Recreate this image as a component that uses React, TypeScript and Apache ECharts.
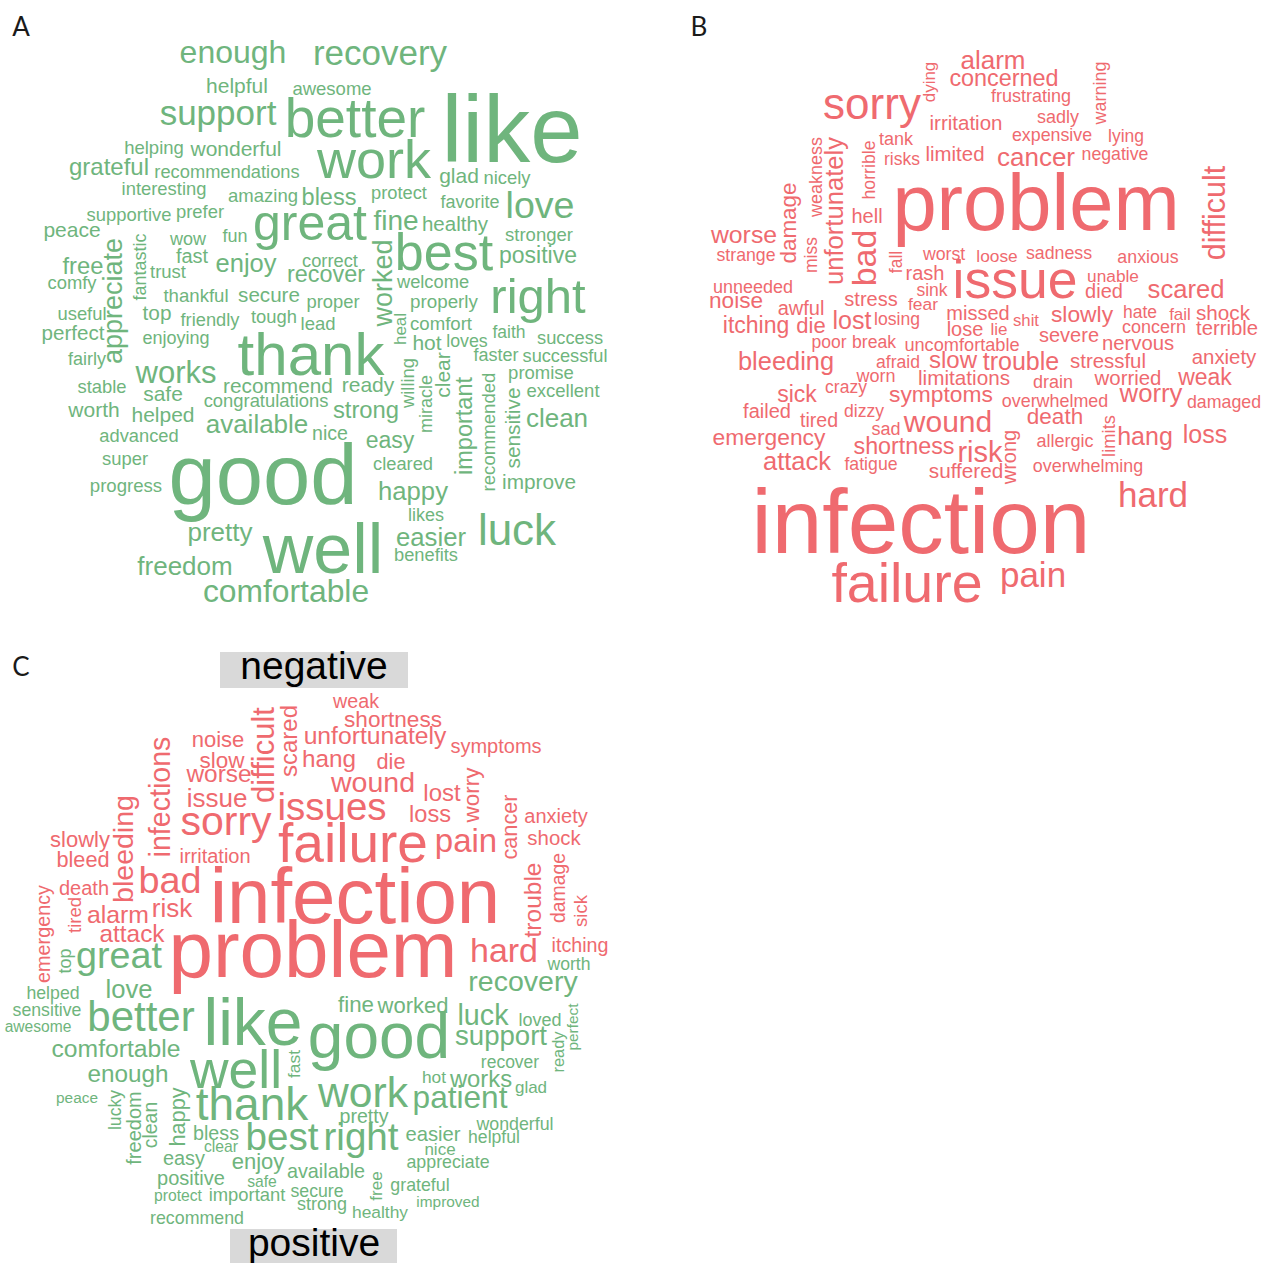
import React, { useEffect, useRef } from "react";
import * as echarts from "echarts";

// Each entry: [word, font size (~ frequency), anchor x, anchor y, rotation]
// Horizontal words: anchor = (centre x, baseline y); vertical words: anchor = (baseline x, centre y)
type W = [string, number, number, number, number];

const panelAPositive: W[] = [
  ["enough", 32, 233, 63, 0], ["recovery", 35, 380, 65, 0], ["helpful", 21, 237, 93, 0],
  ["awesome", 18.5, 332, 95, 0], ["support", 35, 218, 125, 0], ["better", 55, 355, 137, 0],
  ["like", 94, 512, 162, 0], ["work", 54, 374, 178, 0], ["helping", 18.5, 154, 154, 0],
  ["wonderful", 21, 236, 156, 0], ["grateful", 24, 109, 175, 0], ["recommendations", 18.3, 227, 178, 0],
  ["interesting", 18.4, 164, 195, 0], ["amazing", 18.5, 263, 202, 0], ["bless", 23.5, 329, 205, 0],
  ["protect", 18.3, 399, 199, 0], ["glad", 21, 459, 183, 0], ["nicely", 18.4, 507, 184, 0],
  ["supportive", 18.4, 129, 221, 0], ["prefer", 18.4, 200, 218, 0], ["great", 50, 310, 240, 0],
  ["fine", 28, 396, 230, 0], ["healthy", 20.5, 455, 231, 0], ["favorite", 18, 470, 208, 0],
  ["love", 37.6, 540, 218, 0], ["peace", 21, 72, 237, 0], ["wow", 18, 188, 245, 0],
  ["fun", 18, 235, 242, 0], ["stronger", 18.5, 539, 241, 0], ["best", 52, 444, 270, 0],
  ["positive", 23, 538, 263, 0], ["free", 23.8, 83, 274, 0], ["comfy", 18.4, 72, 289, 0],
  ["appreciate", 27, 122, 301, 90], ["fantastic", 18, 146, 267, 90], ["fast", 20, 192, 263, 0],
  ["trust", 18.5, 168, 278, 0], ["enjoy", 25.5, 246, 272, 0], ["correct", 18.3, 330, 267, 0],
  ["recover", 23.4, 326, 282, 0], ["worked", 27, 392, 283, 90], ["welcome", 18.3, 433, 288, 0],
  ["right", 49, 538, 313, 0], ["thankful", 18.6, 196, 302, 0], ["secure", 20.6, 269, 302, 0],
  ["proper", 18.4, 333, 308, 0], ["properly", 18.8, 444, 308, 0], ["useful", 18.4, 82, 320, 0],
  ["top", 20.8, 157, 320, 0], ["friendly", 18.3, 210, 326, 0], ["tough", 18.4, 274, 323, 0],
  ["lead", 18.5, 318, 330, 0], ["heal", 17, 406, 329, 90], ["comfort", 18.6, 441, 330, 0],
  ["hot", 21, 427, 350, 0], ["loves", 17.8, 467, 347, 0], ["faith", 17.5, 509, 338, 0],
  ["success", 18.3, 570, 344, 0], ["faster", 18, 496, 361, 0], ["successful", 18.2, 565, 362, 0],
  ["thank", 60, 311, 375, 0], ["enjoying", 18, 176, 344, 0], ["perfect", 20.6, 73, 340, 0],
  ["fairly", 18, 87, 365, 0], ["works", 31, 176, 383, 0], ["stable", 18.4, 102, 393, 0],
  ["safe", 21, 163, 401, 0], ["recommend", 20.8, 278, 393, 0], ["ready", 21, 368, 392, 0],
  ["congratulations", 18.4, 266, 407, 0], ["strong", 23.8, 366, 418, 0], ["willing", 18.4, 414, 383, 90],
  ["miracle", 18, 432, 404, 90], ["clear", 21, 450, 375, 90], ["important", 23.5, 472, 426, 90],
  ["recommended", 18.6, 495, 432, 90], ["sensitive", 20.8, 520, 428, 90], ["promise", 18.5, 541, 379, 0],
  ["excellent", 18.5, 563, 397, 0], ["clean", 26, 557, 427, 0], ["worth", 21, 94, 417, 0],
  ["helped", 21, 163, 422, 0], ["available", 26, 257, 433, 0], ["nice", 19.6, 330, 440, 0],
  ["advanced", 18.3, 139, 442, 0], ["easy", 23, 390, 448, 0], ["super", 18.4, 125, 465, 0],
  ["cleared", 18.3, 403, 470, 0], ["good", 85, 263, 504, 0], ["progress", 18.6, 126, 492, 0],
  ["happy", 25.7, 413, 500, 0], ["improve", 20.8, 539, 489, 0], ["likes", 18, 426, 521, 0],
  ["pretty", 26, 220, 541, 0], ["well", 70, 323, 573, 0], ["luck", 44, 517, 545, 0],
  ["easier", 25.7, 431, 546, 0], ["benefits", 18.3, 426, 561, 0], ["freedom", 26, 185, 575, 0],
  ["comfortable", 31.8, 286, 602, 0],
];

const panelBNegative: W[] = [
  ["alarm", 26, 993, 69, 0], ["concerned", 23.4, 1004, 86, 0], ["dying", 17, 935, 82, 90],
  ["frustrating", 18, 1031, 102, 0], ["warning", 18, 1106, 93, 90], ["sorry", 44, 872, 119, 0],
  ["irritation", 20.5, 966, 130, 0], ["sadly", 18, 1058, 123, 0], ["expensive", 17.8, 1052, 141, 0],
  ["lying", 17.5, 1126, 142, 0], ["tank", 18, 896, 145, 0], ["risks", 17.5, 902, 165, 0],
  ["limited", 20.4, 955, 161, 0], ["cancer", 26, 1036, 166, 0], ["negative", 17.7, 1115, 160, 0],
  ["weakness", 18, 822, 177, 90], ["unfortunately", 25.6, 843, 211, 90], ["horrible", 17.7, 875, 170, 90],
  ["damage", 22.4, 796, 223, 90], ["worse", 24.8, 744, 243, 0], ["strange", 17.7, 746, 261, 0],
  ["miss", 17.5, 817, 255, 90], ["hell", 20, 867, 223, 0], ["bad", 34, 876, 258, 90],
  ["fall", 17.5, 902, 262, 90], ["problem", 79.5, 1036, 230, 0], ["difficult", 30.5, 1225, 213, 90],
  ["worst", 17.7, 944, 260, 0], ["loose", 17.3, 997, 262, 0], ["sadness", 17.8, 1059, 259, 0],
  ["anxious", 17.8, 1148, 263, 0], ["rash", 20, 925, 280, 0], ["sink", 17.5, 932, 296, 0],
  ["issue", 53.5, 1015, 298, 0], ["unable", 17.3, 1113, 282, 0], ["died", 20, 1104, 298, 0],
  ["scared", 25.6, 1186, 298, 0], ["unneeded", 18, 753, 293, 0], ["noise", 22.6, 736, 308, 0],
  ["stress", 20, 871, 306, 0], ["fear", 17.4, 923, 310, 0], ["awful", 20, 801, 315, 0],
  ["itching", 23, 756, 333, 0], ["die", 22, 811, 333, 0], ["lost", 25, 852, 329, 0],
  ["losing", 17.6, 897, 325, 0], ["missed", 20, 978, 320, 0], ["shit", 16.7, 1026, 326, 0],
  ["slowly", 22.8, 1082, 322, 0], ["hate", 17.5, 1140, 318, 0], ["fail", 17, 1180, 320, 0],
  ["shock", 20.7, 1223, 320, 0], ["lose", 20, 965, 336, 0], ["lie", 17, 999, 335, 0],
  ["concern", 18, 1154, 333, 0], ["terrible", 20.3, 1227, 335, 0], ["poor", 17.5, 829, 348, 0],
  ["break", 17.6, 874, 348, 0], ["uncomfortable", 18.2, 962, 351, 0], ["severe", 20, 1069, 342, 0],
  ["nervous", 20.3, 1138, 350, 0], ["bleeding", 25.4, 786, 370, 0], ["afraid", 17.6, 898, 368, 0],
  ["slow", 24, 953, 368, 0], ["trouble", 25, 1021, 370, 0], ["stressful", 20.4, 1108, 368, 0],
  ["anxiety", 20.4, 1224, 364, 0], ["worn", 18, 876, 382, 0], ["limitations", 20.7, 964, 385, 0],
  ["drain", 18, 1053, 388, 0], ["worried", 20.4, 1128, 385, 0], ["weak", 23, 1205, 385, 0],
  ["sick", 23, 797, 402, 0], ["crazy", 17.5, 846, 393, 0], ["symptoms", 22.8, 941, 402, 0],
  ["overwhelmed", 17.9, 1055, 407, 0], ["worry", 25.7, 1151, 402, 0], ["damaged", 17.8, 1224, 408, 0],
  ["failed", 20, 767, 418, 0], ["tired", 19.6, 819, 427, 0], ["dizzy", 17.6, 864, 417, 0],
  ["sad", 18, 886, 435, 0], ["wound", 30, 948, 432, 0], ["death", 22.5, 1055, 424, 0],
  ["emergency", 22.8, 769, 445, 0], ["shortness", 23.3, 904, 454, 0], ["risk", 29, 980, 462, 0],
  ["wrong", 20, 1016, 457, 90], ["allergic", 18, 1065, 447, 0], ["limits", 18.4, 1115, 436, 90],
  ["hang", 25, 1145, 445, 0], ["loss", 25, 1205, 443, 0], ["attack", 25.5, 797, 470, 0],
  ["fatigue", 17.7, 871, 470, 0], ["suffered", 20.7, 966, 478, 0], ["overwhelming", 17.9, 1088, 472, 0],
  ["hard", 35, 1153, 507, 0], ["infection", 91, 921, 553, 0], ["failure", 55.5, 907, 602, 0],
  ["pain", 35, 1033, 587, 0],
];

const panelCNegative: W[] = [
  ["weak", 19.7, 356, 708, 0], ["shortness", 22.6, 393, 727, 0], ["unfortunately", 24.7, 375, 744, 0],
  ["symptoms", 20, 496, 753, 0], ["hang", 24.3, 329, 767, 0], ["die", 21.7, 391, 769, 0],
  ["wound", 28.5, 373, 792, 0], ["lost", 24, 442, 801, 0], ["worry", 22.5, 479, 795, 90],
  ["issues", 38.5, 332, 820, 0], ["loss", 23.6, 430, 822, 0], ["cancer", 21.7, 517, 827, 90],
  ["anxiety", 20, 556, 823, 0], ["shock", 20.4, 554, 845, 0], ["failure", 55, 353, 862, 0],
  ["pain", 33, 466, 852, 0], ["trouble", 24.5, 541, 900, 90], ["damage", 19.4, 565, 888, 90],
  ["sick", 18.6, 587, 911, 90], ["itching", 19.7, 580, 952, 0], ["hard", 34, 504, 962, 0],
  ["infection", 78, 355, 923, 0], ["problem", 80, 313, 977, 0], ["noise", 22, 218, 747, 0],
  ["slow", 22.5, 222, 768, 0], ["worse", 24.4, 219, 782, 0], ["difficult", 31, 274, 755, 90],
  ["scared", 24, 297, 741, 90], ["issue", 26, 217, 807, 0], ["infections", 28.6, 170, 797, 90],
  ["sorry", 41, 226, 835, 0], ["slowly", 22, 80, 847, 0], ["bleed", 21.7, 83, 867, 0],
  ["bleeding", 28.5, 133, 849, 90], ["irritation", 20, 215, 863, 0], ["bad", 37.8, 170, 893, 0],
  ["death", 20, 84, 895, 0], ["emergency", 19.8, 50, 934, 90], ["tired", 18.5, 81, 915, 90],
  ["alarm", 24.8, 118, 923, 0], ["risk", 26, 172, 917, 0], ["attack", 24.4, 132, 942, 0],
];

const panelCPositive: W[] = [
  ["top", 18, 71, 961, 90], ["great", 37.7, 119, 968, 0], ["love", 25.6, 129, 998, 0],
  ["helped", 17.7, 53, 999, 0], ["sensitive", 17.7, 47, 1016, 0], ["awesome", 15.6, 38, 1032, 0],
  ["better", 42, 141, 1031, 0], ["like", 66, 253, 1045, 0], ["comfortable", 24.7, 116, 1057, 0],
  ["enough", 24.3, 128, 1082, 0], ["well", 53.4, 236, 1088, 0], ["fast", 17.4, 300, 1064, 90],
  ["peace", 15.4, 77, 1103, 0], ["lucky", 17.6, 121, 1110, 90], ["freedom", 20, 141, 1128, 90],
  ["clean", 19.4, 157, 1125, 90], ["happy", 21.7, 185, 1117, 90], ["thank", 46, 252, 1120, 0],
  ["bless", 19.7, 216, 1140, 0], ["clear", 15.7, 221, 1152, 0], ["best", 38.6, 282, 1150, 0],
  ["easy", 19.9, 184, 1165, 0], ["enjoy", 22, 258, 1169, 0], ["positive", 20, 191, 1185, 0],
  ["safe", 15.7, 262, 1187, 0], ["protect", 15.7, 178, 1201, 0], ["important", 18.4, 247, 1201, 0],
  ["recommend", 17.8, 197, 1224, 0], ["available", 19.8, 326, 1178, 0], ["secure", 17.7, 317, 1197, 0],
  ["strong", 18, 322, 1210, 0], ["free", 17, 382, 1186, 90], ["healthy", 17.4, 380, 1218, 0],
  ["grateful", 17.8, 420, 1191, 0], ["improved", 15.4, 448, 1207, 0], ["appreciate", 17.8, 448, 1168, 0],
  ["nice", 17, 440, 1155, 0], ["easier", 20.2, 433, 1141, 0], ["helpful", 17.6, 494, 1143, 0],
  ["wonderful", 17.8, 515, 1130, 0], ["pretty", 19.6, 364, 1123, 0], ["right", 38.6, 361, 1150, 0],
  ["work", 42.6, 363, 1107, 0], ["patient", 31.6, 460, 1108, 0], ["hot", 17.3, 434, 1083, 0],
  ["works", 23.8, 481, 1087, 0], ["glad", 17, 531, 1093, 0], ["recover", 17.5, 510, 1068, 0],
  ["ready", 16.4, 564, 1052, 90], ["perfect", 15.4, 578, 1027, 90], ["good", 64, 379, 1058, 0],
  ["fine", 22.3, 356, 1012, 0], ["worked", 22, 413, 1013, 0], ["luck", 28.7, 483, 1025, 0],
  ["loved", 18, 540, 1026, 0], ["support", 27.6, 501, 1045, 0], ["recovery", 28.5, 523, 991, 0],
  ["worth", 17.6, 569, 970, 0],
];

const panelLabels = ["A", "B", "C"];
const groupTitles = ["negative", "positive"];

const GREEN = "#6FB57D";
const RED = "#EF6A6F";
const FONT = "Liberation Sans, Arial, Helvetica, sans-serif";
const K = 0.35;

function toItems(words: W[], color: string) {
  return words.map(([word, size, ax, ay, rot]) => {
    const x = rot === 0 ? ax : ax - K * size;
    const y = rot === 0 ? ay - K * size : ay;
    return {
      name: word,
      value: [x, y],
      itemStyle: { opacity: 1 },
      label: { fontSize: size, rotate: rot, color, opacity: 1 },
    };
  });
}

function wordSeries(words: W[], color: string) {
  return {
    type: "scatter",
    silent: true,
    symbol: "circle",
    symbolSize: 1,
    itemStyle: { color: "rgba(0,0,0,0)", opacity: 1 },
    label: {
      show: true,
      position: "inside",
      formatter: (p: any) => p.name,
      fontFamily: FONT,
      fontWeight: "normal",
      color,
      opacity: 1,
    },
    emphasis: { disabled: true },
    labelLayout: { hideOverlap: false },
    data: toItems(words, color),
  };
}

export default function App() {
  const ref = useRef<HTMLDivElement>(null);
  useEffect(() => {
    if (!ref.current) return;
    const chart = echarts.init(ref.current, null, { renderer: "svg" });
    const letterStyle = { font: "26px Lato, sans-serif", fill: "#1a1a1a", textAlign: "center", textVerticalAlign: "middle" };
    chart.setOption({
      animation: false,
      backgroundColor: "#ffffff",
      grid: { left: 0, right: 0, top: 0, bottom: 0 },
      xAxis: { type: "value", min: 0, max: 1262, show: false },
      yAxis: { type: "value", min: 0, max: 1263, inverse: true, show: false },
      graphic: [
        { type: "text", x: 21, y: 26, style: { ...letterStyle, text: panelLabels[0] } },
        { type: "text", x: 699, y: 26, style: { ...letterStyle, text: panelLabels[1] } },
        { type: "text", x: 21, y: 666, style: { ...letterStyle, text: panelLabels[2] } },
        { type: "rect", shape: { x: 220, y: 652, width: 188, height: 36 }, style: { fill: "#d9d9d9" } },
        { type: "rect", shape: { x: 230, y: 1229, width: 167, height: 40 }, style: { fill: "#d9d9d9" } },
        { type: "text", x: 314, y: 679 - K * 39, style: { text: groupTitles[0], font: `39px ${FONT}`, fill: "#000", textAlign: "center", textVerticalAlign: "middle" } },
        { type: "text", x: 314, y: 1256 - K * 39, style: { text: groupTitles[1], font: `39px ${FONT}`, fill: "#000", textAlign: "center", textVerticalAlign: "middle" } },
      ],
      series: [
        wordSeries(panelAPositive, GREEN),
        wordSeries(panelBNegative, RED),
        wordSeries(panelCNegative, RED),
        wordSeries(panelCPositive, GREEN),
      ],
    });
    return () => chart.dispose();
  }, []);
  return (
    <div
      ref={ref}
      style={{ position: "fixed", left: 0, top: 0, width: 1262, height: 1263, background: "#fff" }}
    />
  );
}
